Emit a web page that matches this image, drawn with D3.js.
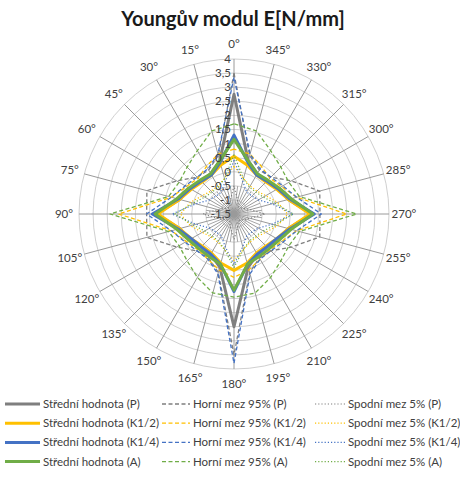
<!DOCTYPE html>
<html>
<head>
<meta charset="utf-8">
<script src="https://cdn.jsdelivr.net/npm/d3@7"></script>
<style>
  body { margin: 0; background: #fff; }
  svg { font-family: Lato, "Open Sans", sans-serif; }
</style>
</head>
<body>
<div id="chart"></div>
<script>
// uhly (kategorie) a popisky radialni osy
var categories = ["0°","15°","30°","45°","60°","75°","90°","105°","120°","135°","150°","165°",
                  "180°","195°","210°","225°","240°","255°","270°","285°","300°","315°","330°","345°"];
var radialTicks = [-1.5, -1, -0.5, 0, 0.5, 1, 1.5, 2, 2.5, 3, 3.5, 4];

// P
var pMean  = [2.75, 0.45, 0.15, 0.15, 0.3, 0.5, 1.25, 0.5, 0.3, 0.15, 0.15, 0.45, 2.5, 0.45, 0.15, 0.15, 0.3, 0.5, 1.25, 0.5, 0.3, 0.15, 0.15, 0.45];
var pUpper = [3.5, 0.65, 0.3, 0.35, 0.85, 1.7, 1.6, 1.7, 0.85, 0.35, 0.3, 0.65, 3.5, 0.65, 0.3, 0.35, 0.85, 1.65, 1.55, 1.65, 0.85, 0.35, 0.3, 0.65];
var pLower = [-0.5, -1.0, -1.2, -1.2, -1.1, -0.9, -0.4, -0.9, -1.1, -1.2, -1.2, -1.0, -0.6, -1.0, -1.2, -1.2, -1.1, -0.9, -0.4, -0.9, -1.1, -1.2, -1.2, -1.0];
// K1/2
var k12Mean  = [0.55, 0.3, 0.1, 0.1, 0.25, 0.5, 1.2, 0.5, 0.25, 0.1, 0.1, 0.3, 0.5, 0.3, 0.1, 0.1, 0.25, 0.5, 1.2, 0.5, 0.25, 0.1, 0.1, 0.3];
var k12Upper = [0.8, 0.7, 0.45, 0.3, 0.45, 0.8, 2.6, 0.8, 0.45, 0.3, 0.35, 0.55, 0.75, 0.55, 0.35, 0.3, 0.45, 0.8, 2.5, 0.8, 0.45, 0.3, 0.45, 0.7];
var k12Lower = [0.2, -0.2, -0.35, -0.35, -0.2, 0.1, 0.4, 0.1, -0.2, -0.35, -0.35, -0.2, 0.15, -0.2, -0.35, -0.35, -0.2, 0.1, 0.4, 0.1, -0.2, -0.35, -0.35, -0.2];
// K1/4
var k14Mean  = [1.3, 0.4, 0.1, 0.15, 0.3, 0.55, 1.4, 0.55, 0.25, 0.15, 0.15, 0.35, 1.25, 0.35, 0.15, 0.15, 0.25, 0.55, 1.35, 0.55, 0.3, 0.15, 0.1, 0.4];
var k14Upper = [3.35, 0.7, 0.35, 0.35, 0.5, 0.8, 1.6, 0.8, 0.5, 0.35, 0.35, 0.7, 3.8, 0.7, 0.35, 0.35, 0.5, 0.8, 1.6, 0.8, 0.5, 0.35, 0.35, 0.7];
var k14Lower = [0.4, -0.3, -0.6, -0.6, -0.5, -0.1, 0.7, -0.1, -0.5, -0.6, -0.6, -0.3, 0.3, -0.3, -0.6, -0.6, -0.5, -0.1, 0.6, -0.1, -0.5, -0.6, -0.6, -0.3];
// A
var aMean  = [1.15, 0.45, 0.15, 0.2, 0.35, 0.6, 1.3, 0.6, 0.35, 0.25, 0.25, 0.35, 1.2, 0.35, 0.25, 0.25, 0.35, 0.6, 1.3, 0.6, 0.35, 0.2, 0.15, 0.45];
var aUpper = [1.7, 1.55, 1.1, 0.85, 0.75, 0.9, 2.9, 0.9, 0.75, 0.85, 1.1, 1.4, 1.45, 1.4, 1.1, 0.85, 0.75, 0.9, 2.85, 0.9, 0.75, 0.85, 1.1, 1.55];
var aLower = [0.6, -0.2, -0.4, -0.4, -0.3, 0.0, 0.6, 0.0, -0.3, -0.4, -0.4, -0.2, 0.4, -0.2, -0.4, -0.4, -0.3, 0.0, 0.6, 0.0, -0.3, -0.4, -0.4, -0.2];

var groups = ["P", "K1/2", "K1/4", "A"];
var groupColors = ["#7f7f7f", "#ffc000", "#4472c4", "#70ad47"];
var seriesValues = [[pMean, pUpper, pLower], [k12Mean, k12Upper, k12Lower],
                    [k14Mean, k14Upper, k14Lower], [aMean, aUpper, aLower]];
var kindNames = ["Střední hodnota", "Horní mez 95%", "Spodní mez 5%"];

var width = 460, height = 480;
var cx = 234, cy = 214, R = 155;

var svg = d3.select("#chart").append("svg")
    .attr("width", width)
    .attr("height", height);

var fmt = d3.formatLocale({decimal: ",", thousands: " ", grouping: [3], currency: ["", ""], minus: "-"}).format("~g");

var r = d3.scaleLinear().domain([-1.5, 4]).range([0, R]);
var ang = d3.scalePoint().domain(categories).range([0, 360 - 15]);
function rad(c){ return -ang(c) * Math.PI / 180; }

var g = svg.append("g").attr("transform", "translate(" + cx + "," + cy + ")");

// kruznice
g.selectAll(".ring").data(radialTicks.slice(1)).enter()
    .append("circle")
    .attr("r", function(d){ return r(d); })
    .attr("fill", "none")
    .attr("stroke", "#d0d0d0")
    .attr("stroke-width", 1);

// kratke paprsky u stredu
g.selectAll(".minor").data(categories).enter()
    .append("line")
    .attr("x1", 0).attr("y1", 0)
    .attr("x2", function(d){ return r(-0.5) * Math.sin(rad(d) + Math.PI / 24); })
    .attr("y2", function(d){ return -r(-0.5) * Math.cos(rad(d) + Math.PI / 24); })
    .attr("stroke", "#a6a6a6")
    .attr("stroke-width", 1);

// paprsky
g.selectAll(".spoke").data(categories).enter()
    .append("line")
    .attr("x1", 0).attr("y1", 0)
    .attr("x2", function(d){ return R * Math.sin(rad(d)); })
    .attr("y2", function(d){ return -R * Math.cos(rad(d)); })
    .attr("stroke", "#9a9a9a")
    .attr("stroke-width", 1);

// popisky uhlu
g.selectAll(".catlab").data(categories).enter()
    .append("text")
    .attr("x", function(d){ return (R + 15) * Math.sin(rad(d)); })
    .attr("y", function(d){ return -(R + 15) * Math.cos(rad(d)); })
    .attr("dy", "0.35em")
    .attr("text-anchor", "middle")
    .attr("font-size", 11.5)
    .attr("fill", "#404040")
    .text(function(d){ return d; });

var dashes = [null, "4,2.5", "1.2,2"];
var widths = [3, 1.3, 1.2];

var line = d3.lineRadial()
    .angle(function(d, i){ return rad(categories[i]); })
    .radius(function(d){ return r(d); })
    .curve(d3.curveLinearClosed);

var seriesList = [];
groups.forEach(function(grp, gi){
    seriesValues[gi].forEach(function(vals, k){
        seriesList.push({name: kindNames[k] + " (" + grp + ")", values: vals,
                         color: groupColors[gi], kind: k, gi: gi});
    });
});

g.selectAll(".series").data(seriesList).enter()
    .append("path")
    .attr("d", function(d){ return line(d.values); })
    .attr("fill", "none")
    .attr("stroke", function(d){ return d.color; })
    .attr("stroke-width", function(d){ return widths[d.kind]; })
    .attr("stroke-dasharray", function(d){ return dashes[d.kind]; })
    .attr("stroke-linejoin", "round");

// popisky radialni osy
g.selectAll(".rlab").data(radialTicks).enter()
    .append("text")
    .attr("x", -3)
    .attr("y", function(d){ return -r(d); })
    .attr("dy", "0.35em")
    .attr("text-anchor", "end")
    .attr("font-size", 11.5)
    .attr("fill", "#404040")
    .text(function(d){ return fmt(d); });

// titulek
svg.append("text")
    .attr("x", 233).attr("y", 26)
    .attr("text-anchor", "middle")
    .attr("font-size", 20)
    .attr("font-weight", "bold")
    .attr("fill", "#1a1a1a")
    .text("Youngův modul E[N/mm]");

// legenda
var colX = [5, 162, 315], lineLen = [35, 28, 30];
var leg = svg.selectAll(".leg").data(seriesList).enter()
    .append("g")
    .attr("transform", function(d){ return "translate(" + colX[d.kind] + "," + (404 + d.gi * 19.2) + ")"; });
leg.append("line")
    .attr("x1", 0).attr("x2", function(d){ return lineLen[d.kind]; })
    .attr("y1", 0).attr("y2", 0)
    .attr("stroke", function(d){ return d.color; })
    .attr("stroke-width", function(d){ return widths[d.kind]; })
    .attr("stroke-dasharray", function(d){ return dashes[d.kind]; });
leg.append("text")
    .attr("x", function(d){ return lineLen[d.kind] + 3; })
    .attr("dy", "0.35em")
    .attr("font-size", 11.5)
    .attr("fill", "#404040")
    .text(function(d){ return d.name; });
</script>
</body>
</html>
